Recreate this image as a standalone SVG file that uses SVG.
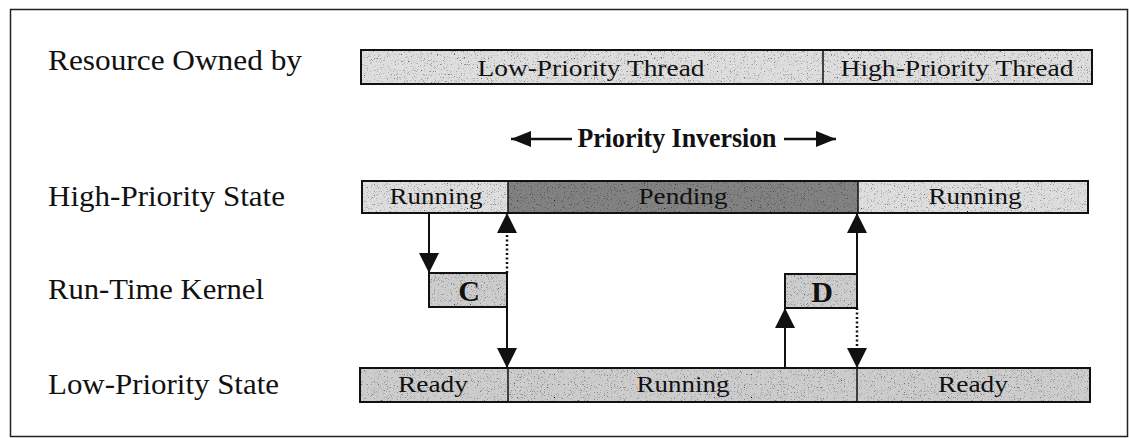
<svg xmlns="http://www.w3.org/2000/svg" width="1129" height="438" viewBox="0 0 1129 438">
  <style>
    .lbl { font-family: "Liberation Serif", "Times New Roman", serif; font-size: 29px; fill: #111; }
    .cell { font-family: "Liberation Serif", "Times New Roman", serif; font-size: 24px; fill: #111; text-anchor: middle; }
    .big { font-family: "Liberation Serif", "Times New Roman", serif; font-size: 27px; font-weight: bold; fill: #111; text-anchor: middle; }
    .key { font-family: "Liberation Serif", "Times New Roman", serif; font-size: 30px; font-weight: bold; fill: #111; text-anchor: middle; }
    .edge { fill: none; stroke: #111; stroke-width: 2; }
    .light { fill: #dedede; }
    .mid { fill: #cdcdcd; }
    .dark { fill: #828282; }
    .grain { filter: url(#speckle); }
    .div { stroke: #111; stroke-width: 1.5; }
    .solid { stroke: #111; stroke-width: 2; fill: none; }
    .wide { stroke: #111; stroke-width: 2.5; fill: none; }
    .dotted { stroke: #111; stroke-width: 2.5; stroke-dasharray: 2 2.5; fill: none; }
  </style>
  <defs>
    <!-- halftone speckle laid over the flat fills -->
    <filter id="speckle" x="0" y="0" width="100%" height="100%">
      <feTurbulence type="fractalNoise" baseFrequency="1.3" numOctaves="1" seed="7" result="noise"/>
      <feColorMatrix in="noise" type="matrix" values="0 0 0 0 0  0 0 0 0 0  0 0 0 0 0  4 0 0 0 -2.3" result="dots"/>
      <feComposite in="dots" in2="SourceGraphic" operator="in" result="clipped"/>
      <feMerge>
        <feMergeNode in="SourceGraphic"/>
        <feMergeNode in="clipped"/>
      </feMerge>
    </filter>
    <marker id="head" viewBox="0 0 20 20" markerWidth="20" markerHeight="20" refX="20" refY="10" orient="auto" markerUnits="userSpaceOnUse">
      <path d="M0,0 L20,10 L0,20 Z" fill="#111"/>
    </marker>
    <marker id="headSmall" viewBox="0 0 20 16" markerWidth="20" markerHeight="16" refX="20" refY="8" orient="auto" markerUnits="userSpaceOnUse">
      <path d="M0,0 L20,8 L0,16 Z" fill="#111"/>
    </marker>
  </defs>

  <!-- outer frame -->
  <rect x="10.5" y="9.5" width="1117" height="427" fill="none" stroke="#222" stroke-width="1.5"/>

  <!-- row labels -->
  <g id="labels">
    <text class="lbl" x="48" y="70" textLength="254" lengthAdjust="spacingAndGlyphs">Resource Owned by</text>
    <text class="lbl" x="48" y="206" textLength="237" lengthAdjust="spacingAndGlyphs">High-Priority State</text>
    <text class="lbl" x="48" y="299" textLength="216" lengthAdjust="spacingAndGlyphs">Run-Time Kernel</text>
    <text class="lbl" x="48" y="394" textLength="231" lengthAdjust="spacingAndGlyphs">Low-Priority State</text>
  </g>

  <!-- resource ownership bar -->
  <g id="resource-bar">
    <rect class="light grain" x="361" y="50" width="731" height="34"/>
    <rect class="edge" x="361" y="50" width="731" height="34"/>
    <line class="div" x1="823" y1="50" x2="823" y2="84"/>
    <text class="cell" x="591" y="76" textLength="227" lengthAdjust="spacingAndGlyphs">Low-Priority Thread</text>
    <text class="cell" x="957" y="76" textLength="233" lengthAdjust="spacingAndGlyphs">High-Priority Thread</text>
  </g>

  <!-- priority inversion span -->
  <g id="priority-inversion">
    <line class="wide" x1="572" y1="139" x2="511" y2="139" marker-end="url(#headSmall)"/>
    <text class="big" x="677" y="147" textLength="199" lengthAdjust="spacingAndGlyphs">Priority Inversion</text>
    <line class="wide" x1="784" y1="139" x2="836" y2="139" marker-end="url(#headSmall)"/>
  </g>

  <!-- high-priority thread state -->
  <g id="high-state">
    <rect class="light grain" x="362" y="181" width="146" height="32"/>
    <rect class="dark grain" x="508" y="181" width="350" height="32"/>
    <rect class="light grain" x="858" y="181" width="230" height="32"/>
    <rect class="edge" x="362" y="181" width="726" height="32"/>
    <line class="div" x1="508" y1="181" x2="508" y2="213"/>
    <line class="div" x1="858" y1="181" x2="858" y2="213"/>
    <text class="cell" x="436" y="204" textLength="93" lengthAdjust="spacingAndGlyphs">Running</text>
    <text class="cell" x="683" y="204" textLength="89" lengthAdjust="spacingAndGlyphs">Pending</text>
    <text class="cell" x="975" y="204" textLength="93" lengthAdjust="spacingAndGlyphs">Running</text>
  </g>

  <!-- kernel activity C -->
  <g id="kernel-c">
    <rect class="mid grain" x="429" y="273" width="78" height="34"/>
    <rect class="edge" x="429" y="273" width="78" height="34"/>
    <text class="key" x="469" y="301">C</text>
  </g>

  <!-- kernel activity D -->
  <g id="kernel-d">
    <rect class="mid grain" x="785" y="274" width="72" height="34"/>
    <rect class="edge" x="785" y="274" width="72" height="34"/>
    <text class="key" x="822" y="302">D</text>
  </g>

  <!-- low-priority thread state -->
  <g id="low-state">
    <rect class="mid grain" x="360" y="368" width="730" height="34"/>
    <rect class="edge" x="360" y="368" width="730" height="34"/>
    <line class="div" x1="508" y1="368" x2="508" y2="402"/>
    <line class="div" x1="857" y1="368" x2="857" y2="402"/>
    <text class="cell" x="433" y="392" textLength="70" lengthAdjust="spacingAndGlyphs">Ready</text>
    <text class="cell" x="683" y="392" textLength="93" lengthAdjust="spacingAndGlyphs">Running</text>
    <text class="cell" x="973" y="392" textLength="70" lengthAdjust="spacingAndGlyphs">Ready</text>
  </g>

  <!-- transitions between states -->
  <g id="connectors">
    <line class="solid" x1="429" y1="213" x2="429" y2="273" marker-end="url(#head)"/>
    <line class="dotted" x1="507" y1="273" x2="507" y2="213" marker-end="url(#head)"/>
    <line class="solid" x1="507" y1="307" x2="507" y2="368" marker-end="url(#head)"/>
    <line class="solid" x1="785" y1="368" x2="785" y2="308" marker-end="url(#head)"/>
    <line class="solid" x1="857" y1="274" x2="857" y2="213" marker-end="url(#head)"/>
    <line class="dotted" x1="857" y1="308" x2="857" y2="368" marker-end="url(#head)"/>
  </g>
</svg>
